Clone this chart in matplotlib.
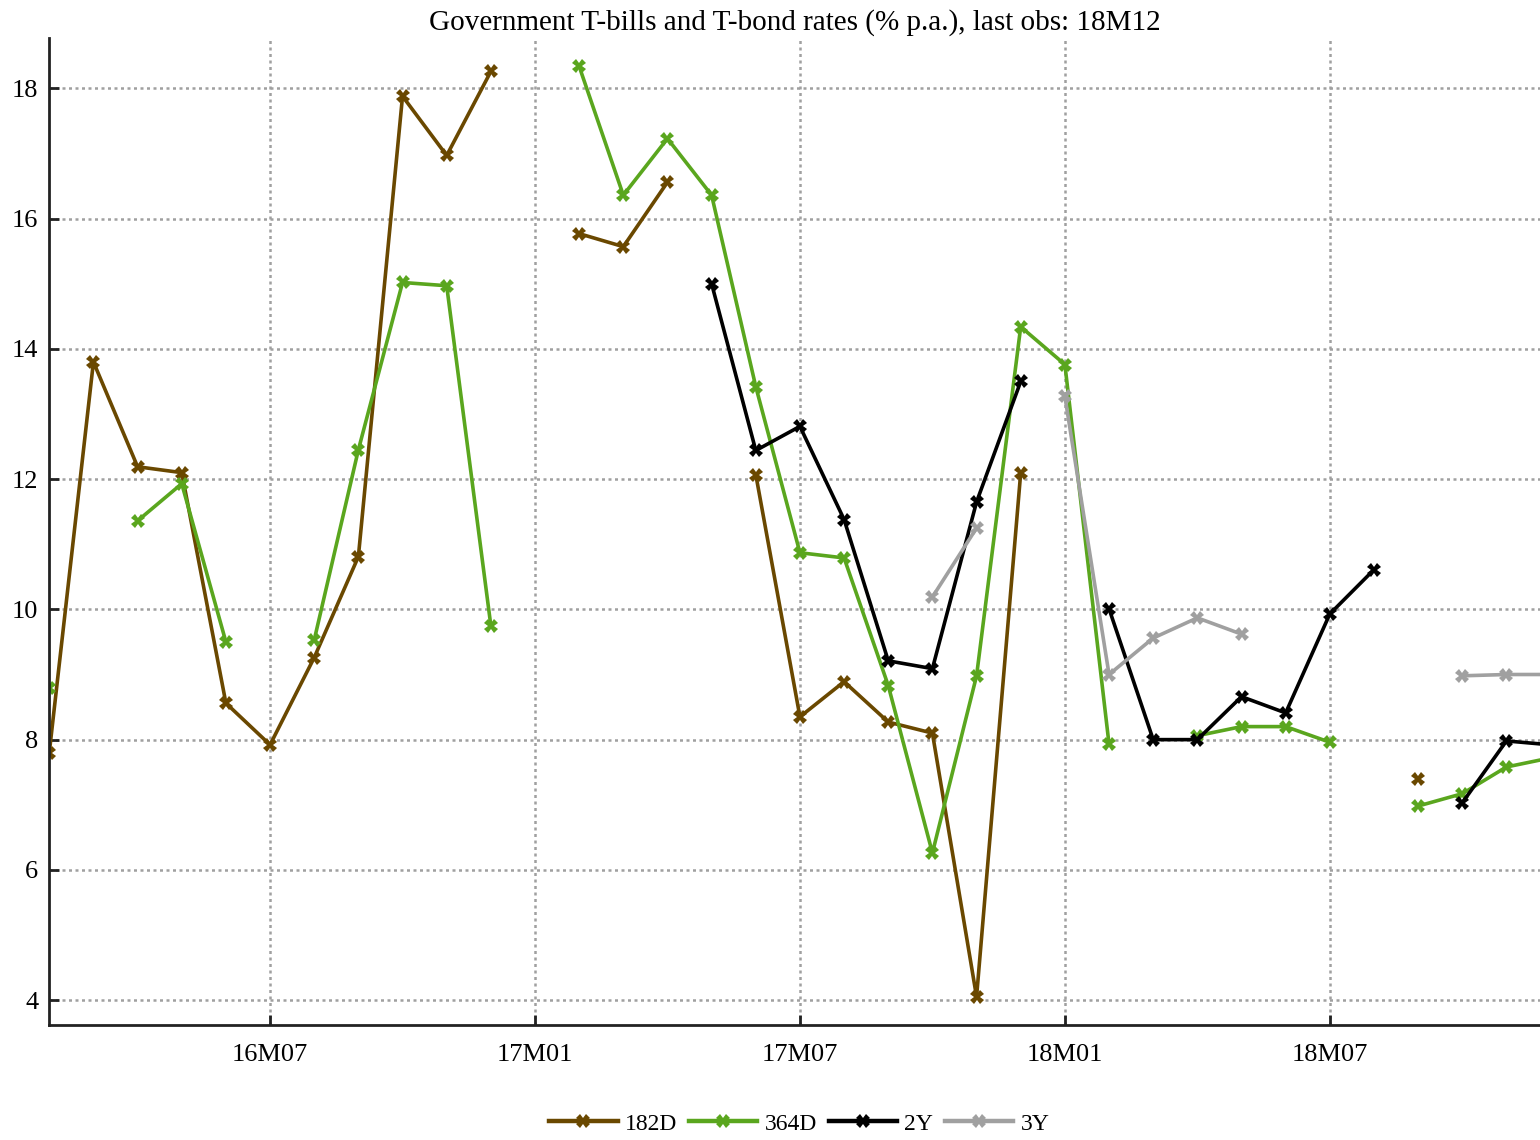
import numpy as np
import matplotlib.pyplot as plt

nan = np.nan

# months 16M02 .. 18M12
months = ['16M02', '16M03', '16M04', '16M05', '16M06', '16M07', '16M08', '16M09',
          '16M10', '16M11', '16M12', '17M01', '17M02', '17M03', '17M04', '17M05',
          '17M06', '17M07', '17M08', '17M09', '17M10', '17M11', '17M12', '18M01',
          '18M02', '18M03', '18M04', '18M05', '18M06', '18M07', '18M08', '18M09',
          '18M10', '18M11', '18M12']

r182 = [7.80, 13.80, 12.19, 12.10, 8.56, 7.92, 9.26, 10.81, 17.88, 16.97, 18.26, nan,
        15.77, 15.57, 16.56, nan, 12.07, 8.35, 8.89, 8.27, 8.10, 4.05, 12.10, nan,
        nan, nan, nan, nan, nan, nan, nan, 7.40, nan, nan, nan]
r364 = [8.79, nan, 11.36, 11.93, 9.50, nan, 9.53, 12.45, 15.02, 14.97, 9.75, nan,
        18.34, 16.36, 17.23, 16.36, 13.42, 10.87, 10.79, 8.83, 6.26, 8.98, 14.34, 13.76,
        7.93, nan, 8.06, 8.20, 8.20, 7.96, nan, 6.98, 7.17, 7.58, 7.72]
r2y = [nan] * 15 + [15.00, 12.44, 12.81, 11.38, 9.21, 9.09, 11.65, 13.50, nan,
                    10.01, 8.00, 8.00, 8.66, 8.41, 9.93, 10.61, nan, 7.03, 7.98, 7.92]
r3y = [nan] * 20 + [10.19, 11.25, nan, 13.27, 9.00, 9.56, 9.87, 9.62, nan,
                    nan, nan, nan, 8.98, 9.00, 9.00]

series = [('182D', r182, '#6a4800'), ('364D', r364, '#5aa61e'),
          ('2Y', r2y, '#000000'), ('3Y', r3y, '#a0a0a0')]

plt.rcParams['font.family'] = ['Liberation Serif', 'DejaVu Serif']

fig = plt.figure(figsize=(15.4, 11.4), dpi=100)
ax = fig.add_axes([0.032, 0.101, 0.968, 0.866])

x = np.arange(len(months))
for name, vals, col in series:
    ax.plot(x, vals, color=col, lw=2.6, marker='X', ms=10, mew=0, label=name)

ax.set_xlim(0, 33.76)
ax.set_ylim(3.62, 18.78)
ticks = [5, 11, 17, 23, 29]
ax.set_xticks(ticks)
ax.set_xticklabels([months[i] for i in ticks])
ax.set_yticks(range(4, 19, 2))
ax.tick_params(direction='in', length=7, width=2, labelsize=19, colors='#222222',
               labelcolor='black')
ax.tick_params(axis='x', pad=14)
ax.tick_params(axis='y', pad=8)
ax.grid(True, ls=(0, (1.2, 1.4)), color='#a0a0a0', lw=1.8)
for s in ['top', 'right']:
    ax.spines[s].set_visible(False)
for s in ['left', 'bottom']:
    ax.spines[s].set_linewidth(2)
    ax.spines[s].set_color('#222222')

ax.set_title('Government T-bills and T-bond rates (% p.a.), last obs: 18M12',
             fontsize=21, pad=6)
leg = fig.legend(loc='lower center', ncol=4, frameon=False, fontsize=17,
                 bbox_to_anchor=(0.519, -0.014), handlelength=2.9,
                 columnspacing=0.5, handletextpad=0.3)
for h in leg.legend_handles:
    h.set_linewidth(3.2)

fig.savefig('out.png', dpi=100)
